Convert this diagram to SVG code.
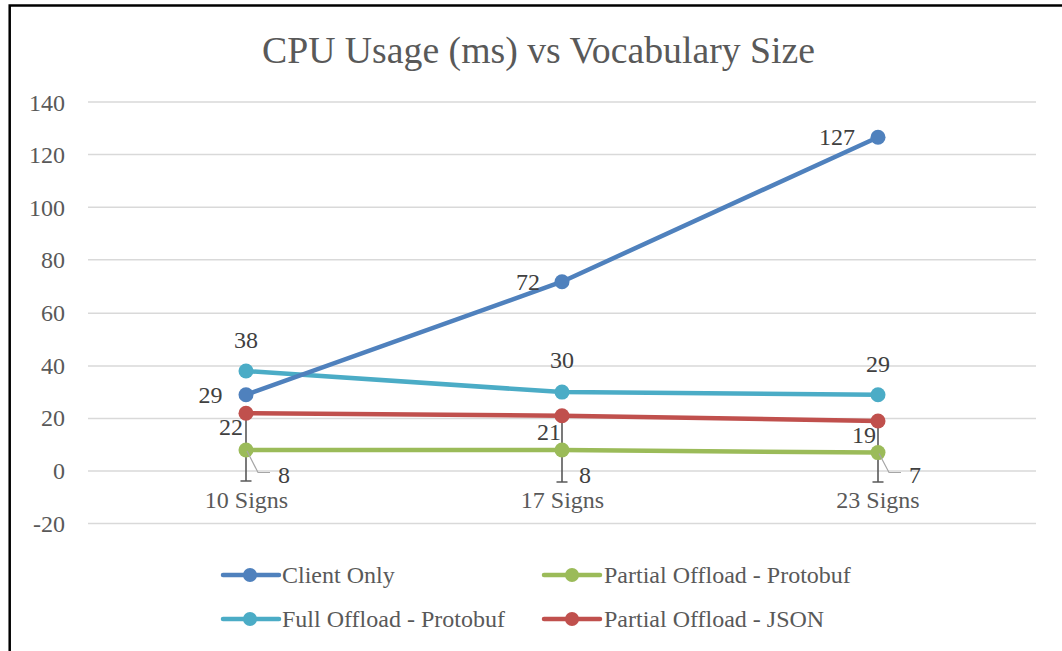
<svg xmlns="http://www.w3.org/2000/svg" width="1062" height="651" viewBox="0 0 1062 651">
<style>
text{font-family:"Liberation Serif","Times New Roman",serif}
.ax{font-size:24px;fill:#595959}
.lab{font-size:24px;fill:#404040}
.leg{font-size:24px;fill:#595959}
.grid{stroke:#d9d9d9;stroke-width:1.5}
.ser{fill:none;stroke-width:4.5;stroke-linecap:round;stroke-linejoin:round}
.eb{stroke:#595959;stroke-width:1.6;fill:none}
.lead{stroke:#a6a6a6;stroke-width:1.2;fill:none}
</style>
<rect width="1062" height="651" fill="#fff"/>
<g id="border" stroke="#000" stroke-width="2.5" fill="none">
<path d="M9.7 651V5.5H1062"/>
</g>
<g id="title"><text x="538.5" y="63" font-size="37" fill="#595959" text-anchor="middle" textLength="553" lengthAdjust="spacingAndGlyphs">CPU Usage (ms) vs Vocabulary Size</text></g>
<g id="grid">
<line class="grid" x1="88" y1="102" x2="1036" y2="102"/>
<line class="grid" x1="88" y1="154.6" x2="1036" y2="154.6"/>
<line class="grid" x1="88" y1="207.3" x2="1036" y2="207.3"/>
<line class="grid" x1="88" y1="259.7" x2="1036" y2="259.7"/>
<line class="grid" x1="88" y1="313.3" x2="1036" y2="313.3"/>
<line class="grid" x1="88" y1="365.9" x2="1036" y2="365.9"/>
<line class="grid" x1="88" y1="418.4" x2="1036" y2="418.4"/>
<line class="grid" x1="88" y1="471" x2="1036" y2="471"/>
<line class="grid" x1="88" y1="523.6" x2="1036" y2="523.6"/>
</g>
<g id="yaxis" class="ax" text-anchor="end">
<text x="65" y="110.5">140</text>
<text x="65" y="163">120</text>
<text x="65" y="215.7">100</text>
<text x="65" y="268.3">80</text>
<text x="65" y="321">60</text>
<text x="65" y="373.5">40</text>
<text x="65" y="426.2">20</text>
<text x="65" y="479">0</text>
<text x="65" y="531.5">-20</text>
</g>
<g id="xaxis" class="ax" text-anchor="middle">
<text x="246.5" y="508">10 Signs</text>
<text x="562.5" y="508">17 Signs</text>
<text x="878" y="508">23 Signs</text>
</g>
<g id="connectors">
<g id="errorbars">
<path class="eb" d="M246 413V481M240.5 481H251.5"/>
<path class="eb" d="M562 415.8V482M556.5 482H567.5"/>
<path class="eb" d="M878 421V482M872.5 482H883.5"/>
</g>
<g id="series-full"><polyline class="ser" stroke="#4BACC6" points="246,371 562,392.1 878,394.8"/><g fill="#4BACC6"><circle cx="246" cy="371" r="7.5"/><circle cx="562" cy="392.1" r="7.5"/><circle cx="878" cy="394.8" r="7.5"/></g></g>
<g id="series-json"><polyline class="ser" stroke="#C0504D" points="246,413.2 562,415.8 878,421"/><g fill="#C0504D"><circle cx="246" cy="413.2" r="7.5"/><circle cx="562" cy="415.8" r="7.5"/><circle cx="878" cy="421" r="7.5"/></g></g>
<g id="series-protobuf"><polyline class="ser" stroke="#9BBB59" points="246,450 562,450 878,452.6"/><g fill="#9BBB59"><circle cx="246" cy="450" r="7.5"/><circle cx="562" cy="450" r="7.5"/><circle cx="878" cy="452.6" r="7.5"/></g></g>
<g id="series-client"><polyline class="ser" stroke="#4F81BD" points="246,394.8 562,281.7 878,137.2"/><g fill="#4F81BD"><circle cx="246" cy="394.8" r="7.5"/><circle cx="562" cy="281.7" r="7.5"/><circle cx="878" cy="137.2" r="7.5"/></g></g>
<g id="leaders">
<path class="lead" d="M247 451L258 472.5H270"/>
<path class="lead" d="M879 453.5L889 472.5H901"/>
</g>
</g>
<g id="labels" class="lab">
<text x="222.5" y="403" text-anchor="end">29</text>
<text x="540" y="290" text-anchor="end">72</text>
<text x="855" y="145" text-anchor="end">127</text>
<text x="246" y="348" text-anchor="middle">38</text>
<text x="562" y="368" text-anchor="middle">30</text>
<text x="878" y="372" text-anchor="middle">29</text>
<text x="243" y="435" text-anchor="end">22</text>
<text x="561" y="440" text-anchor="end">21</text>
<text x="876" y="443" text-anchor="end">19</text>
<text x="278" y="483">8</text>
<text x="579" y="483">8</text>
<text x="909" y="483">7</text>
</g>
<g id="legend" class="leg">
<g id="leg-client"><line x1="223" y1="575" x2="279" y2="575" stroke="#4F81BD" stroke-width="4.5" stroke-linecap="round"/><circle cx="250" cy="575" r="7" fill="#4F81BD"/><text x="282" y="583">Client Only</text></g>
<g id="leg-protobuf"><line x1="544" y1="575" x2="600" y2="575" stroke="#9BBB59" stroke-width="4.5" stroke-linecap="round"/><circle cx="572" cy="575" r="7" fill="#9BBB59"/><text x="604" y="583">Partial Offload - Protobuf</text></g>
<g id="leg-full"><line x1="223" y1="619" x2="279" y2="619" stroke="#4BACC6" stroke-width="4.5" stroke-linecap="round"/><circle cx="250" cy="619" r="7" fill="#4BACC6"/><text x="282" y="627">Full Offload - Protobuf</text></g>
<g id="leg-json"><line x1="544" y1="619" x2="600" y2="619" stroke="#C0504D" stroke-width="4.5" stroke-linecap="round"/><circle cx="572" cy="619" r="7" fill="#C0504D"/><text x="604" y="627">Partial Offload - JSON</text></g>
</g>
</svg>
